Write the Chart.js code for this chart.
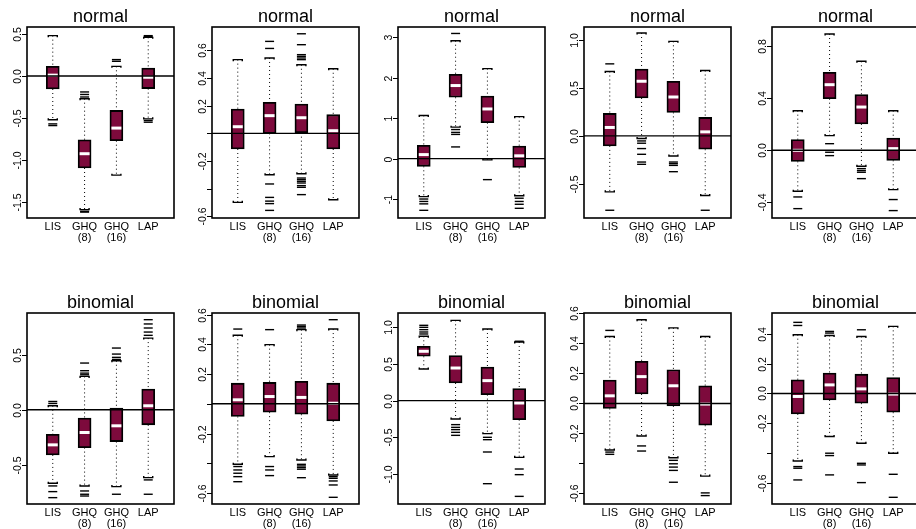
<!DOCTYPE html>
<html>
<head>
<meta charset="utf-8">
<script src="https://cdn.jsdelivr.net/npm/chart.js@4.4.1/dist/chart.umd.min.js"></script>
<style>
  body { margin: 0; background: #fff; }
  #wrap { position: relative; width: 916px; height: 529px; overflow: hidden; }
  #wrap canvas { position: absolute; }
</style>
</head>
<body>
<div id="wrap"></div>
<script>
// four estimation methods, two-line axis labels
const methods = [['LIS'], ['GHQ', '(8)'], ['GHQ', '(16)'], ['LAP']];

// panels: top row = normal response, bottom row = binomial response
const panelTitles = ['normal', 'normal', 'normal', 'normal', 'normal',
  'binomial', 'binomial', 'binomial', 'binomial', 'binomial'];

// box statistics per panel, one value per method
const upperQ = [
  [0.115, -0.76, -0.41, 0.095],
  [0.176, 0.224, 0.212, 0.135],
  [0.33, 2.09, 1.55, 0.31],
  [0.235, 0.70, 0.572, 0.193],
  [0.082, 0.6, 0.428, 0.095],
  [-0.223, -0.076, 0.015, 0.189],
  [0.139, 0.144, 0.151, 0.139],
  [0.741, 0.614, 0.459, 0.164],
  [0.156, 0.281, 0.225, 0.118],
  [0.092, 0.137, 0.13, 0.108]
];
const medians = [
  [0.01, -0.925, -0.62, -0.015],
  [0.048, 0.128, 0.113, 0.019],
  [0.1, 1.81, 1.23, 0.07],
  [0.088, 0.572, 0.407, 0.042],
  [0.0, 0.505, 0.333, 0.013],
  [-0.32, -0.207, -0.146, 0.037],
  [0.027, 0.049, 0.043, 0.004],
  [0.673, 0.445, 0.273, -0.032],
  [0.051, 0.179, 0.118, -0.004],
  [-0.02, 0.058, 0.031, -0.004]
];
const lowerQ = [
  [-0.155, -1.095, -0.77, -0.15],
  [-0.113, 0.0, 0.005, -0.113],
  [-0.19, 1.52, 0.89, -0.22],
  [-0.105, 0.397, 0.246, -0.14],
  [-0.085, 0.397, 0.203, -0.077],
  [-0.412, -0.345, -0.29, -0.137],
  [-0.085, -0.056, -0.07, -0.115],
  [0.605, 0.241, 0.082, -0.259],
  [-0.033, 0.063, -0.016, -0.145],
  [-0.137, -0.043, -0.065, -0.126]
];
const whiskerHi = [
  [0.48, -0.27, 0.115, 0.46],
  [0.533, 0.545, 0.496, 0.467],
  [1.07, 2.92, 2.23, 1.04],
  [0.674, 1.077, 0.99, 0.684],
  [0.305, 0.895, 0.685, 0.305],
  [0.037, 0.305, 0.448, 0.655],
  [0.461, 0.398, 0.499, 0.503],
  [0.877, 1.095, 0.977, 0.8],
  [0.446, 0.558, 0.504, 0.446],
  [0.396, 0.391, 0.384, 0.452]
];
const whiskerLo = [
  [-0.52, -1.59, -1.18, -0.51],
  [-0.499, -0.299, -0.292, -0.48],
  [-0.94, 0.78, -0.03, -0.92],
  [-0.586, -0.028, -0.21, -0.625],
  [-0.315, 0.113, -0.123, -0.303],
  [-0.671, -0.695, -0.701, -0.619],
  [-0.407, -0.355, -0.378, -0.479],
  [0.432, -0.25, -0.45, -0.773],
  [-0.31, -0.217, -0.362, -0.484],
  [-0.454, -0.29, -0.335, -0.402]
];
const outliers = [
  [[-0.57, -0.59], [-0.19, -0.22, -0.25, -1.61, -1.62], [0.175, 0.195], [0.47, 0.48, -0.53, -0.55]],
  [[], [0.614, 0.665, -0.366, -0.463, -0.49, -0.508, -0.557],
    [0.72, 0.641, 0.569, 0.557, 0.545, 0.533, -0.323, -0.335, -0.347, -0.359, -0.378, -0.39, -0.443], []],
  [[-1.0, -1.06, -1.12, -1.28], [3.1, 0.72, 0.65, 0.6, 0.29], [-0.52], [-0.98, -1.06, -1.13, -1.23]],
  [[0.754, -0.779], [-0.053, -0.077, -0.133, -0.193, -0.274, -0.298], [-0.274, -0.291, -0.309, -0.375], [-0.779]],
  [[-0.359, -0.449], [0.051, -0.015, -0.041], [-0.141, -0.156, -0.169, -0.218], [-0.379, -0.464]],
  [[0.058, 0.076, -0.695, -0.747, -0.802], [0.32, 0.335, 0.357, 0.427, -0.741, -0.771, -0.787],
    [0.46, 0.479, 0.509, 0.564, -0.771], [0.68, 0.71, 0.747, 0.784, 0.823, -0.64, -0.771]],
  [[0.503, -0.422, -0.445, -0.467, -0.49, -0.524], [0.499, -0.422, -0.445, -0.483],
    [0.51, 0.52, 0.53, -0.407, -0.418, -0.429, -0.44, -0.497], [0.566, -0.49, -0.501, -0.519, -0.546, -0.629]],
  [[0.909, 0.936, 0.968, 1.0, 1.027], [-0.327, -0.364, -0.395, -0.432, -0.473], [-0.5, -0.532, -0.7, -1.132], [0.81, -0.932, -1.009, -1.305]],
  [[0.487, -0.324, -0.339], [-0.283, -0.317], [-0.379, -0.402, -0.424, -0.446, -0.525], [-0.596, -0.614]],
  [[0.458, 0.479, -0.492, -0.503, -0.582], [0.407, 0.418, -0.402, -0.418, -0.548], [0.429, -0.47, -0.481, -0.6], [-0.544, -0.699]]
];

// y axis extents and ticks
const yMin = [-1.69, -0.612, -1.47, -0.86, -0.521, -0.86, -0.674, -1.409, -0.67, -0.744];
const yMax = [0.583, 0.769, 3.26, 1.14, 0.949, 0.884, 0.611, 1.195, 0.603, 0.542];
const yTicks = [
  [-1.5, -1, -0.5, 0, 0.5],
  [-0.6, -0.4, -0.2, 0, 0.2, 0.4, 0.6],
  [-1, 0, 1, 2, 3],
  [-0.5, 0, 0.5, 1],
  [-0.4, 0, 0.4, 0.8],
  [-0.5, 0, 0.5],
  [-0.6, -0.4, -0.2, 0, 0.2, 0.4, 0.6],
  [-1, -0.5, 0, 0.5, 1],
  [-0.6, -0.4, -0.2, 0, 0.2, 0.4, 0.6],
  [-0.6, -0.4, -0.2, 0, 0.2, 0.4]
];
const yTickLabels = [
  ['-1.5', '-1.0', '-0.5', '0.0', '0.5'],
  ['-0.6', '', '-0.2', '', '0.2', '0.4', '0.6'],
  ['-1', '0', '1', '2', '3'],
  ['-0.5', '0.0', '0.5', '1.0'],
  ['-0.4', '0.0', '0.4', '0.8'],
  ['-0.5', '0.0', '0.5'],
  ['-0.6', '', '-0.2', '', '0.2', '0.4', '0.6'],
  ['-1.0', '-0.5', '0.0', '0.5', '1.0'],
  ['-0.6', '', '-0.2', '0.0', '0.2', '0.4', '0.6'],
  ['-0.6', '', '-0.2', '0.0', '0.2', '0.4']
];

const BOX_FILL = '#7d0a3c';
const FONT = '"Liberation Sans", Arial, Helvetica, sans-serif';

// layout of the 2 x 5 grid
const plotLefts = [27, 212, 398, 584, 772];
const plotTops = [27, 313];
const plotW = 147, plotH = 191;
const padL = 27, padR = 12, padT = 27, padB = 27;

// caps, zero line, frame, axes text
const boxDecor = {
  id: 'boxDecor',
  afterDatasetsDraw(chart, args, opts) {
    const p = opts.panel;
    const { ctx, chartArea: a } = chart;
    const x = chart.scales.x, y = chart.scales.y;
    ctx.save();

    // whisker caps, small bracket ends
    ctx.strokeStyle = '#000';
    ctx.lineWidth = 1.4;
    for (let i = 0; i < 4; i++) {
      const cx = x.getPixelForValue(i + 1);
      const hy = y.getPixelForValue(whiskerHi[p][i]);
      const ly = y.getPixelForValue(whiskerLo[p][i]);
      ctx.beginPath();
      ctx.moveTo(cx - 4.5, hy + 1.5); ctx.lineTo(cx - 4.5, hy); ctx.lineTo(cx + 4.5, hy); ctx.lineTo(cx + 4.5, hy + 1.5);
      ctx.moveTo(cx - 4.5, ly - 1.5); ctx.lineTo(cx - 4.5, ly); ctx.lineTo(cx + 4.5, ly); ctx.lineTo(cx + 4.5, ly - 1.5);
      ctx.stroke();
    }

    // reference line at zero
    const zy = y.getPixelForValue(0);
    ctx.lineWidth = 1.4;
    ctx.beginPath();
    ctx.moveTo(a.left, zy); ctx.lineTo(a.right, zy);
    ctx.stroke();

    // frame
    ctx.lineWidth = 1.6;
    ctx.strokeRect(a.left, a.top, a.right - a.left, a.bottom - a.top);

    // y ticks, rotated labels
    ctx.lineWidth = 1;
    ctx.fillStyle = '#000';
    ctx.font = '10.5px ' + FONT;
    yTicks[p].forEach((v, k) => {
      const ty = Math.round(y.getPixelForValue(v)) + 0.5;
      ctx.beginPath();
      ctx.moveTo(a.left - 5, ty); ctx.lineTo(a.left, ty);
      ctx.stroke();
      const lab = yTickLabels[p][k];
      if (!lab) return;
      ctx.save();
      ctx.translate(a.left - 6, ty);
      ctx.rotate(-Math.PI / 2);
      ctx.textAlign = 'center';
      ctx.textBaseline = 'alphabetic';
      ctx.fillText(lab, 0, 0);
      ctx.restore();
    });

    // method labels under each box
    ctx.font = '11px ' + FONT;
    ctx.textAlign = 'center';
    ctx.textBaseline = 'alphabetic';
    methods.forEach((m, i) => {
      const cx = x.getPixelForValue(i + 1);
      m.forEach((line, j) => ctx.fillText(line, cx, a.bottom + 11.5 + j * 11));
    });

    // panel title
    ctx.font = '18px ' + FONT;
    ctx.fillText(panelTitles[p], (a.left + a.right) / 2, a.top - 5);

    ctx.restore();
  }
};

const wrap = document.getElementById('wrap');

function makePanel(p) {
  const col = p % 5, row = Math.floor(p / 5);
  const canvas = document.createElement('canvas');
  canvas.width = padL + plotW + padR;
  canvas.height = padT + plotH + padB;
  canvas.style.left = (plotLefts[col] - padL) + 'px';
  canvas.style.top = (plotTops[row] - padT) + 'px';
  wrap.appendChild(canvas);

  const boxes = [], meds = [], whiskers = [], outs = [];
  for (let i = 0; i < 4; i++) {
    const xv = i + 1;
    boxes.push({ x: xv, y: [lowerQ[p][i], upperQ[p][i]] });
    meds.push({ x: xv, y: medians[p][i] });
    whiskers.push({ x: xv, y: whiskerHi[p][i] }, { x: xv, y: upperQ[p][i] }, { x: xv, y: null },
                  { x: xv, y: lowerQ[p][i] }, { x: xv, y: whiskerLo[p][i] }, { x: xv, y: null });
    outliers[p][i].forEach(v => outs.push({ x: xv, y: v }));
  }

  return new Chart(canvas.getContext('2d'), {
    type: 'bar',
    data: {
      datasets: [
        {
          type: 'scatter', data: meds, order: 1,
          pointStyle: 'line', pointRadius: 5, pointHoverRadius: 5,
          borderColor: '#fff', pointBorderWidth: 3
        },
        {
          type: 'scatter', data: outs, order: 2,
          pointStyle: 'line', pointRadius: 4.5, pointHoverRadius: 4.5,
          borderColor: '#000', pointBorderWidth: 1.4
        },
        {
          data: boxes, order: 3,
          backgroundColor: BOX_FILL, borderColor: '#000', borderWidth: 1.8,
          borderSkipped: false, barThickness: 13
        },
        {
          type: 'line', data: whiskers, order: 4,
          borderColor: '#000', borderWidth: 1, borderDash: [1, 3],
          pointRadius: 0, spanGaps: false, fill: false
        }
      ]
    },
    options: {
      responsive: false,
      animation: false,
      events: [],
      layout: { padding: { left: padL, right: padR, top: padT, bottom: padB } },
      scales: {
        x: { type: 'linear', min: 0.19, max: 4.81, offset: false, display: false },
        y: { type: 'linear', min: yMin[p], max: yMax[p], display: false }
      },
      plugins: {
        legend: { display: false },
        tooltip: { enabled: false },
        boxDecor: { panel: p }
      }
    },
    plugins: [boxDecor]
  });
}

for (let p = 0; p < 10; p++) makePanel(p);
</script>
</body>
</html>
